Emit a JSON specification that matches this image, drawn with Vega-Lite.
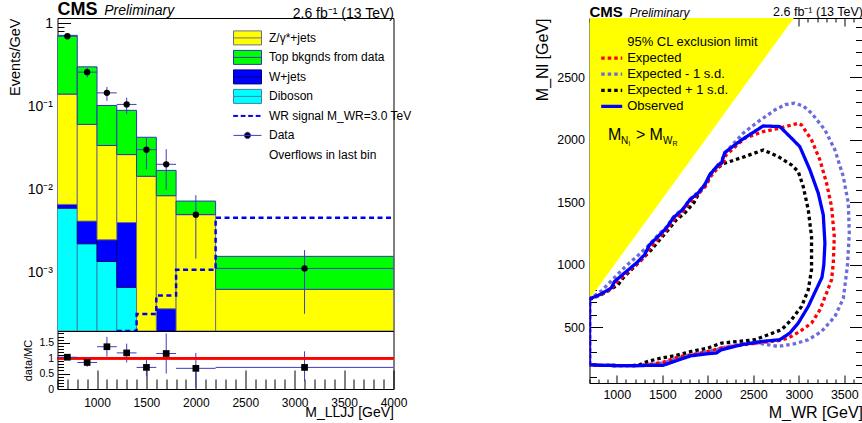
{
  "$schema": "https://vega.github.io/schema/vega-lite/v6.json",
  "background": "white",
  "padding": {"left": 6.5, "top": 0, "right": 0, "bottom": 0},
  "spacing": 121,
  "config": {
    "font": "Liberation Sans",
    "view": {"stroke": "black", "strokeWidth": 1},
    "axis": {"grid": false, "domain": false, "labelColor": "black", "titleColor": "black", "tickColor": "black", "labelFont": "Liberation Sans", "titleFont": "Liberation Sans", "titleFontWeight": "normal", "labelFlush": false, "labelOverlap": false, "tickWidth": 1},
    "legend": {"labelFont": "Liberation Sans", "labelColor": "black"},
    "title": {"color": "black", "subtitleColor": "black", "font": "Liberation Sans", "subtitleFont": "Liberation Sans"}
  },
  "datasets": {
    "hist": [
      {"lo": 600, "hi": 800, "series": "Diboson", "v": 0.0060},
      {"lo": 800, "hi": 1000, "series": "Diboson", "v": 0.00224},
      {"lo": 1000, "hi": 1200, "series": "Diboson", "v": 0.00137},
      {"lo": 1200, "hi": 1400, "series": "Diboson", "v": 0.00067},
      {"lo": 600, "hi": 800, "series": "W+jets", "v": 0.00065},
      {"lo": 800, "hi": 1000, "series": "W+jets", "v": 0.00195},
      {"lo": 1000, "hi": 1200, "series": "W+jets", "v": 0.00113},
      {"lo": 1200, "hi": 1400, "series": "W+jets", "v": 0.00336},
      {"lo": 1600, "hi": 1800, "series": "W+jets", "v": 0.00037},
      {"lo": 600, "hi": 800, "series": "Z/γ*+jets", "v": 0.1344},
      {"lo": 800, "hi": 1000, "series": "Z/γ*+jets", "v": 0.0568},
      {"lo": 1000, "hi": 1200, "series": "Z/γ*+jets", "v": 0.0315},
      {"lo": 1200, "hi": 1400, "series": "Z/γ*+jets", "v": 0.0224},
      {"lo": 1400, "hi": 1600, "series": "Z/γ*+jets", "v": 0.0145},
      {"lo": 1600, "hi": 1800, "series": "Z/γ*+jets", "v": 0.0081},
      {"lo": 1800, "hi": 2200, "series": "Z/γ*+jets", "v": 0.00504},
      {"lo": 2200, "hi": 4000, "series": "Z/γ*+jets", "v": 0.000634},
      {"lo": 600, "hi": 800, "series": "Top bkgnds from data", "v": 0.576},
      {"lo": 800, "hi": 1000, "series": "Top bkgnds from data", "v": 0.239},
      {"lo": 1000, "hi": 1200, "series": "Top bkgnds from data", "v": 0.069},
      {"lo": 1200, "hi": 1400, "series": "Top bkgnds from data", "v": 0.0636},
      {"lo": 1400, "hi": 1600, "series": "Top bkgnds from data", "v": 0.0282},
      {"lo": 1600, "hi": 1800, "series": "Top bkgnds from data", "v": 0.0086},
      {"lo": 1800, "hi": 2200, "series": "Top bkgnds from data", "v": 0.00226},
      {"lo": 2200, "hi": 4000, "series": "Top bkgnds from data", "v": 0.000946}
    ],
    "sig": [
      {"edge": 1200, "v": 0.00015},
      {"edge": 1400, "v": 0.00032},
      {"edge": 1600, "v": 0.000533},
      {"edge": 1800, "v": 0.00109},
      {"edge": 2200, "v": 0.0046},
      {"edge": 4000, "v": 0.0046}
    ],
    "pts": [
      {"lo": 600, "hi": 800, "x": 700, "y": 0.70, "ylo": 0.66, "yhi": 0.745, "r": 1.03, "rlo": 0.95, "rhi": 1.10},
      {"lo": 800, "hi": 1000, "x": 900, "y": 0.259, "ylo": 0.223, "yhi": 0.295, "r": 0.86, "rlo": 0.72, "rhi": 0.98},
      {"lo": 1000, "hi": 1200, "x": 1100, "y": 0.146, "ylo": 0.117, "yhi": 0.172, "r": 1.37, "rlo": 1.05, "rhi": 1.69},
      {"lo": 1200, "hi": 1400, "x": 1300, "y": 0.106, "ylo": 0.081, "yhi": 0.128, "r": 1.17, "rlo": 0.86, "rhi": 1.47},
      {"lo": 1400, "hi": 1600, "x": 1500, "y": 0.0303, "ylo": 0.0176, "yhi": 0.0417, "r": 0.70, "rlo": 0.41, "rhi": 1.0},
      {"lo": 1600, "hi": 1800, "x": 1700, "y": 0.0202, "ylo": 0.0100, "yhi": 0.0307, "r": 1.15, "rlo": 0.5, "rhi": 1.8},
      {"lo": 1800, "hi": 2200, "x": 2000, "y": 0.0050, "ylo": 0.00148, "yhi": 0.0086, "r": 0.67, "rlo": 0.05, "rhi": 1.17},
      {"lo": 2200, "hi": 4000, "x": 3100, "y": 0.00113, "ylo": 0.000322, "yhi": 0.00188, "r": 0.70, "rlo": 0.25, "rhi": 1.22}
    ],
    "tri": [
      {"mw": 700, "lo": 726, "hi": 2973},
      {"mw": 2945, "lo": 2973, "hi": 2973}
    ],
    "limits": [
      {"s": "Expected - 1 s.d.", "i": 0, "mw": 700, "mn": 201},
      {"s": "Expected - 1 s.d.", "i": 1, "mw": 700, "mn": 728},
      {"s": "Expected - 1 s.d.", "i": 2, "mw": 830, "mn": 790},
      {"s": "Expected - 1 s.d.", "i": 3, "mw": 994, "mn": 912},
      {"s": "Expected - 1 s.d.", "i": 4, "mw": 1100, "mn": 990},
      {"s": "Expected - 1 s.d.", "i": 5, "mw": 1214, "mn": 1061},
      {"s": "Expected - 1 s.d.", "i": 6, "mw": 1343, "mn": 1151},
      {"s": "Expected - 1 s.d.", "i": 7, "mw": 1450, "mn": 1235},
      {"s": "Expected - 1 s.d.", "i": 8, "mw": 1550, "mn": 1305},
      {"s": "Expected - 1 s.d.", "i": 9, "mw": 1625, "mn": 1385},
      {"s": "Expected - 1 s.d.", "i": 10, "mw": 1735, "mn": 1455},
      {"s": "Expected - 1 s.d.", "i": 11, "mw": 1805, "mn": 1525},
      {"s": "Expected - 1 s.d.", "i": 12, "mw": 1900, "mn": 1585},
      {"s": "Expected - 1 s.d.", "i": 13, "mw": 1975, "mn": 1650},
      {"s": "Expected - 1 s.d.", "i": 14, "mw": 2030, "mn": 1725},
      {"s": "Expected - 1 s.d.", "i": 15, "mw": 2140, "mn": 1815},
      {"s": "Expected - 1 s.d.", "i": 16, "mw": 2190, "mn": 1895},
      {"s": "Expected - 1 s.d.", "i": 17, "mw": 2388, "mn": 2052},
      {"s": "Expected - 1 s.d.", "i": 18, "mw": 2554, "mn": 2145},
      {"s": "Expected - 1 s.d.", "i": 19, "mw": 2737, "mn": 2238},
      {"s": "Expected - 1 s.d.", "i": 20, "mw": 2850, "mn": 2280},
      {"s": "Expected - 1 s.d.", "i": 21, "mw": 2950, "mn": 2292},
      {"s": "Expected - 1 s.d.", "i": 22, "mw": 3050, "mn": 2270},
      {"s": "Expected - 1 s.d.", "i": 23, "mw": 3140, "mn": 2212},
      {"s": "Expected - 1 s.d.", "i": 24, "mw": 3287, "mn": 2079},
      {"s": "Expected - 1 s.d.", "i": 25, "mw": 3397, "mn": 1918},
      {"s": "Expected - 1 s.d.", "i": 26, "mw": 3489, "mn": 1705},
      {"s": "Expected - 1 s.d.", "i": 27, "mw": 3544, "mn": 1493},
      {"s": "Expected - 1 s.d.", "i": 28, "mw": 3555, "mn": 1250},
      {"s": "Expected - 1 s.d.", "i": 29, "mw": 3535, "mn": 1000},
      {"s": "Expected - 1 s.d.", "i": 30, "mw": 3515, "mn": 880},
      {"s": "Expected - 1 s.d.", "i": 31, "mw": 3489, "mn": 730},
      {"s": "Expected - 1 s.d.", "i": 32, "mw": 3397, "mn": 587},
      {"s": "Expected - 1 s.d.", "i": 33, "mw": 3250, "mn": 467},
      {"s": "Expected - 1 s.d.", "i": 34, "mw": 3104, "mn": 401},
      {"s": "Expected - 1 s.d.", "i": 35, "mw": 2957, "mn": 369},
      {"s": "Expected - 1 s.d.", "i": 36, "mw": 2774, "mn": 347},
      {"s": "Expected - 1 s.d.", "i": 37, "mw": 2590, "mn": 369},
      {"s": "Expected - 1 s.d.", "i": 38, "mw": 2443, "mn": 374},
      {"s": "Expected - 1 s.d.", "i": 39, "mw": 2223, "mn": 347},
      {"s": "Expected - 1 s.d.", "i": 40, "mw": 2100, "mn": 322},
      {"s": "Expected - 1 s.d.", "i": 41, "mw": 1900, "mn": 290},
      {"s": "Expected - 1 s.d.", "i": 42, "mw": 1700, "mn": 260},
      {"s": "Expected - 1 s.d.", "i": 43, "mw": 1508, "mn": 215},
      {"s": "Expected - 1 s.d.", "i": 44, "mw": 1343, "mn": 200},
      {"s": "Expected - 1 s.d.", "i": 45, "mw": 1195, "mn": 193},
      {"s": "Expected - 1 s.d.", "i": 46, "mw": 829, "mn": 196},
      {"s": "Expected - 1 s.d.", "i": 47, "mw": 700, "mn": 201},
      {"s": "Expected + 1 s.d.", "i": 0, "mw": 700, "mn": 201},
      {"s": "Expected + 1 s.d.", "i": 1, "mw": 700, "mn": 722},
      {"s": "Expected + 1 s.d.", "i": 2, "mw": 737, "mn": 734},
      {"s": "Expected + 1 s.d.", "i": 3, "mw": 850, "mn": 770},
      {"s": "Expected + 1 s.d.", "i": 4, "mw": 1013, "mn": 840},
      {"s": "Expected + 1 s.d.", "i": 5, "mw": 1068, "mn": 894},
      {"s": "Expected + 1 s.d.", "i": 6, "mw": 1159, "mn": 960},
      {"s": "Expected + 1 s.d.", "i": 7, "mw": 1269, "mn": 1040},
      {"s": "Expected + 1 s.d.", "i": 8, "mw": 1379, "mn": 1120},
      {"s": "Expected + 1 s.d.", "i": 9, "mw": 1471, "mn": 1200},
      {"s": "Expected + 1 s.d.", "i": 10, "mw": 1560, "mn": 1275},
      {"s": "Expected + 1 s.d.", "i": 11, "mw": 1654, "mn": 1359},
      {"s": "Expected + 1 s.d.", "i": 12, "mw": 1746, "mn": 1413},
      {"s": "Expected + 1 s.d.", "i": 13, "mw": 1850, "mn": 1500},
      {"s": "Expected + 1 s.d.", "i": 14, "mw": 1911, "mn": 1585},
      {"s": "Expected + 1 s.d.", "i": 15, "mw": 1990, "mn": 1650},
      {"s": "Expected + 1 s.d.", "i": 16, "mw": 2040, "mn": 1745},
      {"s": "Expected + 1 s.d.", "i": 17, "mw": 2186, "mn": 1812},
      {"s": "Expected + 1 s.d.", "i": 18, "mw": 2406, "mn": 1865},
      {"s": "Expected + 1 s.d.", "i": 19, "mw": 2609, "mn": 1918},
      {"s": "Expected + 1 s.d.", "i": 20, "mw": 2774, "mn": 1865},
      {"s": "Expected + 1 s.d.", "i": 21, "mw": 2920, "mn": 1798},
      {"s": "Expected + 1 s.d.", "i": 22, "mw": 2994, "mn": 1745},
      {"s": "Expected + 1 s.d.", "i": 23, "mw": 3049, "mn": 1625},
      {"s": "Expected + 1 s.d.", "i": 24, "mw": 3104, "mn": 1439},
      {"s": "Expected + 1 s.d.", "i": 25, "mw": 3140, "mn": 1226},
      {"s": "Expected + 1 s.d.", "i": 26, "mw": 3140, "mn": 960},
      {"s": "Expected + 1 s.d.", "i": 27, "mw": 3104, "mn": 800},
      {"s": "Expected + 1 s.d.", "i": 28, "mw": 3030, "mn": 667},
      {"s": "Expected + 1 s.d.", "i": 29, "mw": 2920, "mn": 561},
      {"s": "Expected + 1 s.d.", "i": 30, "mw": 2810, "mn": 481},
      {"s": "Expected + 1 s.d.", "i": 31, "mw": 2664, "mn": 441},
      {"s": "Expected + 1 s.d.", "i": 32, "mw": 2517, "mn": 401},
      {"s": "Expected + 1 s.d.", "i": 33, "mw": 2334, "mn": 387},
      {"s": "Expected + 1 s.d.", "i": 34, "mw": 2150, "mn": 374},
      {"s": "Expected + 1 s.d.", "i": 35, "mw": 2003, "mn": 335},
      {"s": "Expected + 1 s.d.", "i": 36, "mw": 1819, "mn": 307},
      {"s": "Expected + 1 s.d.", "i": 37, "mw": 1636, "mn": 273},
      {"s": "Expected + 1 s.d.", "i": 38, "mw": 1489, "mn": 255},
      {"s": "Expected + 1 s.d.", "i": 39, "mw": 1343, "mn": 228},
      {"s": "Expected + 1 s.d.", "i": 40, "mw": 1250, "mn": 201},
      {"s": "Expected + 1 s.d.", "i": 41, "mw": 1159, "mn": 193},
      {"s": "Expected + 1 s.d.", "i": 42, "mw": 829, "mn": 196},
      {"s": "Expected + 1 s.d.", "i": 43, "mw": 700, "mn": 201},
      {"s": "Expected", "i": 0, "mw": 700, "mn": 201},
      {"s": "Expected", "i": 1, "mw": 700, "mn": 728},
      {"s": "Expected", "i": 2, "mw": 810, "mn": 755},
      {"s": "Expected", "i": 3, "mw": 939, "mn": 805},
      {"s": "Expected", "i": 4, "mw": 985, "mn": 850},
      {"s": "Expected", "i": 5, "mw": 1104, "mn": 932},
      {"s": "Expected", "i": 6, "mw": 1214, "mn": 1000},
      {"s": "Expected", "i": 7, "mw": 1310, "mn": 1068},
      {"s": "Expected", "i": 8, "mw": 1370, "mn": 1140},
      {"s": "Expected", "i": 9, "mw": 1460, "mn": 1212},
      {"s": "Expected", "i": 10, "mw": 1550, "mn": 1280},
      {"s": "Expected", "i": 11, "mw": 1625, "mn": 1358},
      {"s": "Expected", "i": 12, "mw": 1735, "mn": 1432},
      {"s": "Expected", "i": 13, "mw": 1810, "mn": 1505},
      {"s": "Expected", "i": 14, "mw": 1893, "mn": 1565},
      {"s": "Expected", "i": 15, "mw": 1975, "mn": 1628},
      {"s": "Expected", "i": 16, "mw": 2030, "mn": 1705},
      {"s": "Expected", "i": 17, "mw": 2120, "mn": 1785},
      {"s": "Expected", "i": 18, "mw": 2165, "mn": 1800},
      {"s": "Expected", "i": 19, "mw": 2200, "mn": 1878},
      {"s": "Expected", "i": 20, "mw": 2406, "mn": 2012},
      {"s": "Expected", "i": 21, "mw": 2609, "mn": 2065},
      {"s": "Expected", "i": 22, "mw": 2791, "mn": 2092},
      {"s": "Expected", "i": 23, "mw": 2994, "mn": 2132},
      {"s": "Expected", "i": 24, "mw": 3030, "mn": 2118},
      {"s": "Expected", "i": 25, "mw": 3140, "mn": 1998},
      {"s": "Expected", "i": 26, "mw": 3232, "mn": 1838},
      {"s": "Expected", "i": 27, "mw": 3305, "mn": 1652},
      {"s": "Expected", "i": 28, "mw": 3360, "mn": 1466},
      {"s": "Expected", "i": 29, "mw": 3390, "mn": 1226},
      {"s": "Expected", "i": 30, "mw": 3379, "mn": 1013},
      {"s": "Expected", "i": 31, "mw": 3360, "mn": 880},
      {"s": "Expected", "i": 32, "mw": 3305, "mn": 774},
      {"s": "Expected", "i": 33, "mw": 3232, "mn": 640},
      {"s": "Expected", "i": 34, "mw": 3140, "mn": 534},
      {"s": "Expected", "i": 35, "mw": 3011, "mn": 467},
      {"s": "Expected", "i": 36, "mw": 2884, "mn": 414},
      {"s": "Expected", "i": 37, "mw": 2774, "mn": 393},
      {"s": "Expected", "i": 38, "mw": 2590, "mn": 380},
      {"s": "Expected", "i": 39, "mw": 2370, "mn": 358},
      {"s": "Expected", "i": 40, "mw": 2150, "mn": 335},
      {"s": "Expected", "i": 41, "mw": 2003, "mn": 307},
      {"s": "Expected", "i": 42, "mw": 1819, "mn": 281},
      {"s": "Expected", "i": 43, "mw": 1673, "mn": 263},
      {"s": "Expected", "i": 44, "mw": 1508, "mn": 220},
      {"s": "Expected", "i": 45, "mw": 1343, "mn": 201},
      {"s": "Expected", "i": 46, "mw": 1195, "mn": 193},
      {"s": "Expected", "i": 47, "mw": 829, "mn": 196},
      {"s": "Expected", "i": 48, "mw": 700, "mn": 201},
      {"s": "Observed", "i": 0, "mw": 700, "mn": 201},
      {"s": "Observed", "i": 1, "mw": 700, "mn": 728},
      {"s": "Observed", "i": 2, "mw": 810, "mn": 760},
      {"s": "Observed", "i": 3, "mw": 939, "mn": 814},
      {"s": "Observed", "i": 4, "mw": 975, "mn": 866},
      {"s": "Observed", "i": 5, "mw": 1104, "mn": 946},
      {"s": "Observed", "i": 6, "mw": 1214, "mn": 1013},
      {"s": "Observed", "i": 7, "mw": 1305, "mn": 1080},
      {"s": "Observed", "i": 8, "mw": 1360, "mn": 1160},
      {"s": "Observed", "i": 9, "mw": 1453, "mn": 1226},
      {"s": "Observed", "i": 10, "mw": 1544, "mn": 1293},
      {"s": "Observed", "i": 11, "mw": 1618, "mn": 1373},
      {"s": "Observed", "i": 12, "mw": 1728, "mn": 1445},
      {"s": "Observed", "i": 13, "mw": 1801, "mn": 1519},
      {"s": "Observed", "i": 14, "mw": 1893, "mn": 1573},
      {"s": "Observed", "i": 15, "mw": 1966, "mn": 1639},
      {"s": "Observed", "i": 16, "mw": 2021, "mn": 1719},
      {"s": "Observed", "i": 17, "mw": 2113, "mn": 1799},
      {"s": "Observed", "i": 18, "mw": 2150, "mn": 1812},
      {"s": "Observed", "i": 19, "mw": 2186, "mn": 1897},
      {"s": "Observed", "i": 20, "mw": 2370, "mn": 1998},
      {"s": "Observed", "i": 21, "mw": 2609, "mn": 2110},
      {"s": "Observed", "i": 22, "mw": 2791, "mn": 2105},
      {"s": "Observed", "i": 23, "mw": 2920, "mn": 2012},
      {"s": "Observed", "i": 24, "mw": 3011, "mn": 1945},
      {"s": "Observed", "i": 25, "mw": 3122, "mn": 1759},
      {"s": "Observed", "i": 26, "mw": 3214, "mn": 1572},
      {"s": "Observed", "i": 27, "mw": 3269, "mn": 1399},
      {"s": "Observed", "i": 28, "mw": 3287, "mn": 1173},
      {"s": "Observed", "i": 29, "mw": 3275, "mn": 1000},
      {"s": "Observed", "i": 30, "mw": 3255, "mn": 900},
      {"s": "Observed", "i": 31, "mw": 3177, "mn": 780},
      {"s": "Observed", "i": 32, "mw": 3104, "mn": 667},
      {"s": "Observed", "i": 33, "mw": 2994, "mn": 534},
      {"s": "Observed", "i": 34, "mw": 2901, "mn": 454},
      {"s": "Observed", "i": 35, "mw": 2791, "mn": 401},
      {"s": "Observed", "i": 36, "mw": 2590, "mn": 387},
      {"s": "Observed", "i": 37, "mw": 2370, "mn": 361},
      {"s": "Observed", "i": 38, "mw": 2150, "mn": 321},
      {"s": "Observed", "i": 39, "mw": 2095, "mn": 295},
      {"s": "Observed", "i": 40, "mw": 2003, "mn": 289},
      {"s": "Observed", "i": 41, "mw": 1819, "mn": 273},
      {"s": "Observed", "i": 42, "mw": 1709, "mn": 247},
      {"s": "Observed", "i": 43, "mw": 1508, "mn": 196},
      {"s": "Observed", "i": 44, "mw": 1343, "mn": 196},
      {"s": "Observed", "i": 45, "mw": 1195, "mn": 193},
      {"s": "Observed", "i": 46, "mw": 829, "mn": 196},
      {"s": "Observed", "i": 47, "mw": 700, "mn": 201}
    ]
  },
  "resolve": {"scale": {"fill": "independent", "stroke": "independent", "shape": "independent", "strokeDash": "independent"}, "legend": {"fill": "independent", "stroke": "independent", "shape": "independent", "strokeDash": "independent"}},
  "hconcat": [
    {
      "spacing": 0,
      "bounds": "flush",
      "vconcat": [
        {
          "width": 336,
          "height": 313,
          "title": {"text": "CMS", "subtitle": "\u200b\u00a0\u00a0\u00a0\u00a0\u00a0\u00a0\u00a0\u00a0\u00a0\u00a0\u00a0\u00a0Preliminary", "anchor": "start", "frame": "group", "fontSize": 18, "fontWeight": "bold", "subtitleFontSize": 14, "subtitleFontStyle": "italic", "subtitlePadding": -15, "offset": -12.5},
          "layer": [
            {
              "data": {"name": "hist"},
              "transform": [
                {"calculate": "indexof(['Diboson','W+jets','Z/γ*+jets','Top bkgnds from data'], datum.series)", "as": "ord"},
                {"stack": "v", "groupby": ["lo"], "sort": [{"field": "ord", "order": "ascending"}], "as": ["v0", "v1"]},
                {"calculate": "max(datum.v0, 0.0001)", "as": "base"}
              ],
              "mark": {"type": "rect", "clip": true, "strokeWidth": 1},
              "encoding": {
                "x": {"field": "lo", "type": "quantitative", "scale": {"domain": [600, 4000], "nice": false, "zero": false},
                  "axis": {"orient": "top", "labels": false, "ticks": false, "title": "2.6 fb\u207b\u00b9 (13 TeV)", "titleAnchor": "end", "titleFontSize": 14, "titlePadding": -2.8}},
                "x2": {"field": "hi"},
                "y": {"field": "v1", "type": "quantitative", "scale": {"type": "log", "domain": [0.0002, 1.16], "nice": false, "clamp": true},
                  "axis": {"values": [0.0002,0.0003,0.0004,0.0005,0.0006,0.0007,0.0008,0.0009,0.001,0.002,0.003,0.004,0.005,0.006,0.007,0.008,0.009,0.01,0.02,0.03,0.04,0.05,0.06,0.07,0.08,0.09,0.1,0.2,0.3,0.4,0.5,0.6,0.7,0.8,0.9,1],
                    "labelExpr": "datum.value === 1 ? '1' : datum.value === 0.1 ? '10\u207b\u00b9' : datum.value === 0.01 ? '10\u207b\u00b2' : datum.value === 0.001 ? '10\u207b\u00b3' : ''",
                    "tickSize": {"condition": {"test": "datum.value === 1 || datum.value === 0.1 || datum.value === 0.01 || datum.value === 0.001", "value": -13}, "value": -6.5},
                    "labelOverlap": false,
                    "labelPadding": 18, "labelFontSize": 14, "title": "Events/GeV", "titleAnchor": "end", "titleFontSize": 14.5, "titlePadding": 5}},
                "y2": {"field": "base"},
                "fill": {"field": "series", "type": "nominal",
                  "scale": {"domain": ["Z/γ*+jets", "Top bkgnds from data", "W+jets", "Diboson", "WR signal M_WR=3.0 TeV", "Data", "Overflows in last bin"], "range": ["#ffff00", "#00ff00", "#0000ff", "#00ffff", "#0000ee", "#000000", "transparent"]},
                  "legend": {"orient": "none", "legendX": 182.5, "legendY": 12.4, "title": null, "labelFontSize": 12, "symbolSize": 196, "symbolStrokeWidth": 1, "labelOffset": 14, "rowPadding": 0.5, "padding": 0, "labelLimit": 400}},
                "stroke": {"field": "series", "type": "nominal",
                  "scale": {"domain": ["Z/γ*+jets", "Top bkgnds from data", "W+jets", "Diboson", "WR signal M_WR=3.0 TeV", "Data", "Overflows in last bin"], "range": ["#6e6e8c", "#3333bb", "#00007a", "#3388aa", "#0000ee", "#3c3cc8", "transparent"]},
                  "legend": {"orient": "none", "legendX": 182.5, "legendY": 12.4, "title": null, "labelFontSize": 12, "symbolSize": 196, "symbolStrokeWidth": 1, "labelOffset": 14, "rowPadding": 0.5, "padding": 0, "labelLimit": 400}}
              }
            },
            {
              "data": {"name": "hist"},
              "transform": [{"filter": "false"}],
              "mark": {"type": "point", "filled": true, "opacity": 1},
              "encoding": {
                "x": {"field": "lo", "type": "quantitative"},
                "y": {"field": "v", "type": "quantitative"},
                "fill": {"field": "series", "type": "nominal"},
                "stroke": {"field": "series", "type": "nominal"},
                "shape": {"field": "series", "type": "nominal",
                  "scale": {"domain": ["Z/γ*+jets", "Top bkgnds from data", "W+jets", "Diboson", "WR signal M_WR=3.0 TeV", "Data", "Overflows in last bin"],
                    "range": ["M-2,-1H2V1H-2Z M-2,0H2", "M-2,-1H2V1H-2Z M-2,0H2", "M-2,-1H2V1H-2Z M-2,0H2", "M-2,-1H2V1H-2Z M-2,0H2",
                      "M-2,-1M2,1M-2,-0.07H-1.4V0.07H-2Z M-0.93,-0.07H-0.33V0.07H-0.93Z M0.14,-0.07H0.74V0.07H0.14Z M1.21,-0.07H1.81V0.07H1.21Z",
                      "M-2,-1M2,1M-2,0H2 M-0.45,0A0.45,0.45 0 1,1 0.45,0A0.45,0.45 0 1,1 -0.45,0Z", "M-2,-1M2,1M0,0H0.01"]},
                  "legend": {"orient": "none", "legendX": 182.5, "legendY": 12.4, "title": null, "labelFontSize": 12, "symbolSize": 196, "symbolStrokeWidth": 1, "labelOffset": 14, "rowPadding": 0.5, "padding": 0, "labelLimit": 400}}
              }
            },
            {
              "data": {"name": "sig"},
              "mark": {"type": "line", "interpolate": "step-after", "strokeDash": [5, 3.5], "strokeWidth": 2.5, "color": "#0000ee", "clip": true},
              "encoding": {
                "x": {"field": "edge", "type": "quantitative"},
                "y": {"field": "v", "type": "quantitative"}
              }
            },
            {
              "data": {"name": "pts"},
              "mark": {"type": "rule", "color": "#3c3cc8", "strokeWidth": 1, "clip": true},
              "encoding": {
                "x": {"field": "x", "type": "quantitative"},
                "y": {"field": "ylo", "type": "quantitative"},
                "y2": {"field": "yhi"}
              }
            },
            {
              "data": {"name": "pts"},
              "mark": {"type": "rule", "color": "#3c3cc8", "strokeWidth": 1, "clip": true},
              "encoding": {
                "x": {"field": "lo", "type": "quantitative"},
                "x2": {"field": "hi"},
                "y": {"field": "y", "type": "quantitative"}
              }
            },
            {
              "data": {"name": "pts"},
              "mark": {"type": "circle", "color": "black", "size": 40, "opacity": 1},
              "encoding": {
                "x": {"field": "x", "type": "quantitative"},
                "y": {"field": "y", "type": "quantitative"}
              }
            }
          ]
        },
        {
          "width": 336,
          "height": 58,
          "data": {"name": "pts"},
          "resolve": {"axis": {"x": "independent", "y": "independent"}},
          "layer": [
            {
              "mark": {"type": "rule", "color": "#3c3cc8", "strokeWidth": 1, "clip": true},
              "encoding": {
                "x": {"field": "x", "type": "quantitative", "scale": {"domain": [600, 4000], "nice": false, "zero": false},
                  "axis": {"orient": "bottom", "values": [600,700,800,900,1000,1100,1200,1300,1400,1500,1600,1700,1800,1900,2000,2100,2200,2300,2400,2500,2600,2700,2800,2900,3000,3100,3200,3300,3400,3500,3600,3700,3800,3900,4000],
                    "labelExpr": "datum.value % 500 === 0 && datum.value >= 1000 ? format(datum.value, 'd') : ''",
                    "tickSize": {"condition": {"test": "datum.value % 500 === 0", "value": -19}, "value": -10},
                    "labelOverlap": false,
                    "labelPadding": 27, "labelFontSize": 12, "title": "M_LLJJ [GeV]", "titleAnchor": "end", "titleFontSize": 14, "titlePadding": -12}},
                "y": {"field": "rlo", "type": "quantitative", "scale": {"domain": [0, 1.88], "nice": false},
                  "axis": {"orient": "left", "values": [0,0.1,0.2,0.3,0.4,0.5,0.6,0.7,0.8,0.9,1,1.1,1.2,1.3,1.4,1.5,1.6,1.7,1.8],
                    "labelExpr": "datum.value === 0 || datum.value === 0.5 || datum.value === 1 || datum.value === 1.5 ? format(datum.value, '~g') : ''",
                    "tickSize": {"condition": {"test": "datum.value === 0 || datum.value === 0.5 || datum.value === 1 || datum.value === 1.5", "value": -12}, "value": -6},
                    "labelOverlap": false,
                    "labelPadding": 16, "labelFontSize": 10.5, "title": "data/MC", "titleFontSize": 11, "titlePadding": 5}},
                "y2": {"field": "rhi"}
              }
            },
            {
              "mark": {"type": "rule", "color": "#ff0000", "strokeWidth": 2},
              "encoding": {"y": {"datum": 1, "type": "quantitative", "axis": null}}
            },
            {
              "mark": {"type": "rule", "color": "#3c3cc8", "strokeWidth": 1, "clip": true},
              "encoding": {
                "x": {"field": "lo", "type": "quantitative", "axis": null},
                "x2": {"field": "hi"},
                "y": {"field": "r", "type": "quantitative", "axis": null}
              }
            },
            {
              "mark": {"type": "square", "color": "black", "size": 45, "opacity": 1},
              "encoding": {
                "x": {"field": "x", "type": "quantitative", "axis": null},
                "y": {"field": "r", "type": "quantitative", "axis": null}
              }
            }
          ]
        }
      ]
    },
    {
      "width": 273,
      "height": 365,
      "title": {"text": "CMS", "subtitle": "\u200b\u00a0\u00a0\u00a0\u00a0\u00a0\u00a0\u00a0\u00a0\u00a0\u00a0\u00a0\u00a0Preliminary", "anchor": "start", "frame": "group", "fontSize": 15, "fontWeight": "bold", "subtitleFontSize": 12, "subtitleFontStyle": "italic", "subtitlePadding": -12.5, "offset": -14.5},
      "resolve": {"axis": {"x": "independent", "y": "independent"}},
      "layer": [
        {
          "data": {"name": "tri"},
          "mark": {"type": "area", "color": "#ffff00", "opacity": 1, "clip": true},
          "encoding": {
            "x": {"field": "mw", "type": "quantitative", "scale": {"domain": [700, 3700], "nice": false, "zero": false},
              "axis": {"orient": "bottom", "values": [700,800,900,1000,1100,1200,1300,1400,1500,1600,1700,1800,1900,2000,2100,2200,2300,2400,2500,2600,2700,2800,2900,3000,3100,3200,3300,3400,3500,3600,3700],
                "labelExpr": "datum.value % 500 === 0 ? format(datum.value, 'd') : ''",
                "tickSize": {"condition": {"test": "datum.value % 500 === 0", "value": -8}, "value": -4},
                "labelOverlap": false,
                "labelPadding": 13, "labelFontSize": 12.5, "title": "M_WR [GeV]", "titleAnchor": "end", "titleFontSize": 16, "titlePadding": 0}},
            "y": {"field": "lo", "type": "quantitative", "scale": {"domain": [55, 2973], "nice": false, "zero": false},
              "axis": {"orient": "left", "values": [100,200,300,400,500,600,700,800,900,1000,1100,1200,1300,1400,1500,1600,1700,1800,1900,2000,2100,2200,2300,2400,2500,2600,2700,2800,2900],
                "labelExpr": "datum.value % 500 === 0 ? format(datum.value, 'd') : ''",
                "tickSize": {"condition": {"test": "datum.value % 500 === 0", "value": -13}, "value": -7},
                "labelOverlap": false,
                "labelPadding": 18, "labelFontSize": 12.5, "title": "M_Nl [GeV]", "titleAnchor": "end", "titleFontSize": 16, "titlePadding": 6}},
            "y2": {"field": "hi"}
          }
        },
        {
          "data": {"name": "limits"},
          "mark": {"type": "line", "clip": true, "strokeWidth": 3.3, "strokeCap": "butt"},
          "encoding": {
            "x": {"field": "mw", "type": "quantitative",
              "axis": {"orient": "top", "values": [700,800,900,1000,1100,1200,1300,1400,1500,1600,1700,1800,1900,2000,2100,2200,2300,2400,2500,2600,2700,2800,2900,3000,3100,3200,3300,3400,3500,3600,3700],
                "labels": false, "tickSize": {"condition": {"test": "datum.value % 500 === 0", "value": -8}, "value": -4},
                "title": "2.6 fb\u207b\u00b9 (13 TeV)", "titleAnchor": "end", "titleFontSize": 12.5, "titlePadding": -1}},
            "y": {"field": "mn", "type": "quantitative",
              "axis": {"orient": "right", "values": [100,200,300,400,500,600,700,800,900,1000,1100,1200,1300,1400,1500,1600,1700,1800,1900,2000,2100,2200,2300,2400,2500,2600,2700,2800,2900],
                "labels": false, "tickSize": {"condition": {"test": "datum.value % 500 === 0", "value": -13}, "value": -7}, "title": null}},
            "order": {"field": "i", "type": "quantitative"},
            "stroke": {"field": "s", "type": "nominal",
              "scale": {"domain": ["95% CL exclusion limit", "Expected", "Expected - 1 s.d.", "Expected + 1 s.d.", "Observed"], "range": ["transparent", "#ff0000", "#6b6bdc", "#000000", "#0000ff"]},
              "legend": {"orient": "none", "legendX": 15.2, "legendY": 17, "title": null, "labelFontSize": 13, "symbolType": "M-2.1,0H2.1", "symbolSize": 100, "symbolStrokeWidth": 3.3, "labelOffset": 8.5, "rowPadding": 2.1, "padding": 0, "labelLimit": 400}},
            "strokeDash": {"field": "s", "type": "nominal",
              "scale": {"domain": ["95% CL exclusion limit", "Expected", "Expected - 1 s.d.", "Expected + 1 s.d.", "Observed"], "range": [[1, 0], [3.5, 3], [3.5, 3], [3.5, 3], [1, 0]]},
              "legend": {"orient": "none", "legendX": 15.2, "legendY": 17, "title": null, "labelFontSize": 13, "symbolType": "M-2.1,0H2.1", "symbolSize": 100, "symbolStrokeWidth": 3.3, "labelOffset": 8.5, "rowPadding": 2.1, "padding": 0, "labelLimit": 400}}
          }
        },
        {
          "data": {"values": [{}]},
          "mark": {"type": "text", "text": "M", "fontSize": 16, "align": "left", "baseline": "alphabetic", "color": "black"},
          "encoding": {"x": {"datum": 902, "type": "quantitative", "axis": null}, "y": {"datum": 1998, "type": "quantitative", "axis": null}}
        },
        {
          "data": {"values": [{}]},
          "mark": {"type": "text", "text": "N", "fontSize": 10, "align": "left", "baseline": "alphabetic", "dx": 13, "dy": 4, "color": "black"},
          "encoding": {"x": {"datum": 902, "type": "quantitative", "axis": null}, "y": {"datum": 1998, "type": "quantitative", "axis": null}}
        },
        {
          "data": {"values": [{}]},
          "mark": {"type": "text", "text": "l", "fontSize": 7, "align": "left", "baseline": "alphabetic", "dx": 20.5, "dy": 6, "color": "black"},
          "encoding": {"x": {"datum": 902, "type": "quantitative", "axis": null}, "y": {"datum": 1998, "type": "quantitative", "axis": null}}
        },
        {
          "data": {"values": [{}]},
          "mark": {"type": "text", "text": ">", "fontSize": 16, "align": "left", "baseline": "alphabetic", "dx": 28, "color": "black"},
          "encoding": {"x": {"datum": 902, "type": "quantitative", "axis": null}, "y": {"datum": 1998, "type": "quantitative", "axis": null}}
        },
        {
          "data": {"values": [{}]},
          "mark": {"type": "text", "text": "M", "fontSize": 16, "align": "left", "baseline": "alphabetic", "dx": 41.5, "color": "black"},
          "encoding": {"x": {"datum": 902, "type": "quantitative", "axis": null}, "y": {"datum": 1998, "type": "quantitative", "axis": null}}
        },
        {
          "data": {"values": [{}]},
          "mark": {"type": "text", "text": "W", "fontSize": 10, "align": "left", "baseline": "alphabetic", "dx": 55, "dy": 4, "color": "black"},
          "encoding": {"x": {"datum": 902, "type": "quantitative", "axis": null}, "y": {"datum": 1998, "type": "quantitative", "axis": null}}
        },
        {
          "data": {"values": [{}]},
          "mark": {"type": "text", "text": "R", "fontSize": 7, "align": "left", "baseline": "alphabetic", "dx": 64.5, "dy": 6, "color": "black"},
          "encoding": {"x": {"datum": 902, "type": "quantitative", "axis": null}, "y": {"datum": 1998, "type": "quantitative", "axis": null}}
        }
      ]
    }
  ]
}
